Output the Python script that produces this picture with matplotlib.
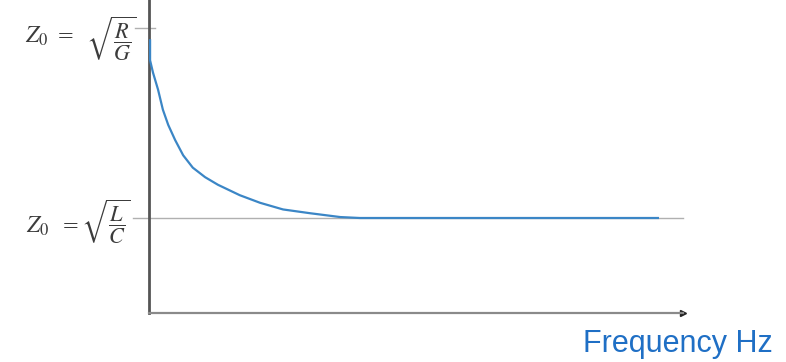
import matplotlib
matplotlib.use("Agg")
import matplotlib.pyplot as plt
import numpy as np

plt.rcParams['mathtext.fontset'] = 'stix'

# Data (arbitrary units: frequency 0-100, impedance with sqrt(L/C) = 1)
freq = [0.2, 0.2, 0.75, 1.7, 2.6, 3.6, 4.9, 6.4, 8.2, 10.5, 12.9, 17.0, 20.8,
        25.1, 30.2, 35.8, 39.5, 95.3]
impedance = [2.87, 2.66, 2.53, 2.35, 2.14, 1.98, 1.82, 1.66, 1.53, 1.43, 1.35,
             1.24, 1.16, 1.09, 1.05, 1.01, 1.00, 1.00]
z_lc = 1.0
z_rg = 3.0
z0_label = r'$Z_0$'
eq_label = '='
sqrt_rg = r'$\sqrt{\dfrac{R}{G}}$'
sqrt_lc = r'$\sqrt{\dfrac{L}{C}}$'
xlabel = 'Frequency Hz'

W, H = 786, 362
fig = plt.figure(figsize=(W / 100, H / 100), dpi=100)
ax = fig.add_axes([149 / W, 49 / H, 534 / W, 313 / H])
ax.set_xlim(0, 100)
ax.set_ylim(0, 313 / 95)

for s in ['top', 'right']:
    ax.spines[s].set_visible(False)
ax.spines['left'].set_color('#555555')
ax.spines['left'].set_linewidth(2.0)
ax.spines['bottom'].set_color('#8a8a8a')
ax.spines['bottom'].set_linewidth(1.6)
ax.set_xticks([])
ax.set_yticks([])

# arrow at end of x axis
ax.plot([1], [0], marker='>', color='#222222', markersize=5,
        transform=ax.transAxes, clip_on=False)

# horizontal reference line for sqrt(L/C)
ax.plot([-3.0, 100], [z_lc, z_lc], color='#b0b0b0', lw=1.0, clip_on=False, zorder=1)
# short tick for sqrt(R/G)
ax.plot([-2.6, 1.1], [z_rg, z_rg], color='#b0b0b0', lw=1.0, clip_on=False, zorder=1)

ax.plot(freq, impedance, color='#3b86c6', lw=1.6, zorder=3,
        solid_joinstyle='round')

tc = '#3c3c3c'
# R/G label
fig.text(25 / W, 1 - 36 / H, z0_label, fontsize=17, color=tc, ha='left', va='center')
fig.text(66 / W, 1 - 37 / H, eq_label, fontsize=15, color=tc, ha='center', va='center',
         family='DejaVu Serif')
fig.text(86 / W, 1 - 39 / H, sqrt_rg, fontsize=16, color=tc, ha='left', va='center')
# L/C label
fig.text(26 / W, 1 - 226 / H, z0_label, fontsize=17, color=tc, ha='left', va='center')
fig.text(71 / W, 1 - 227 / H, eq_label, fontsize=15, color=tc, ha='center', va='center',
         family='DejaVu Serif')
fig.text(81 / W, 1 - 222 / H, sqrt_lc, fontsize=16, color=tc, ha='left', va='center')

fig.text(773 / W, 1 - 352 / H, xlabel, fontsize=22, color='#1f6fc5',
         family='Liberation Sans', ha='right', va='baseline')

fig.savefig('out.png', dpi=100)
